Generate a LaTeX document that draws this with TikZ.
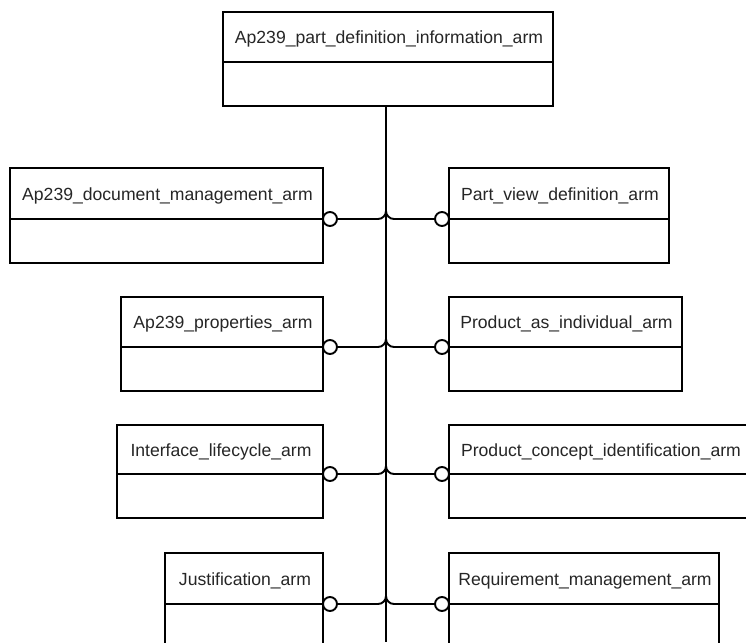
\documentclass[tikz,border=0pt]{standalone}
\usepackage{fontspec}
\setmainfont{Liberation Sans}
\begin{document}
\begin{tikzpicture}[x=1pt,y=-1pt,
  boxline/.style={line width=1.9pt,line join=miter},
  armbox/.style={draw,line width=1.9pt,rectangle,inner sep=0pt,fill=white},
  lbl/.style={font=\fontsize{17.6}{19}\selectfont,inner sep=0pt,text=black!85},
  port/.style={circle,draw,line width=1.9pt,fill=white,minimum size=14pt,inner sep=0pt},
  conn/.style={line width=1.9pt,rounded corners=8pt}]
\clip (0,0) rectangle (746,642);
\fill[white] (0,0) rectangle (746,642);
\newcommand\armbox[7]{%
  \node[armbox,minimum width={#4-#2},minimum height={#5-#3}] (#1) at ({(#2+#4)/2},{(#3+#5)/2}) {};
  \draw[boxline] (#2,#6) -- (#4,#6);
  \node[lbl] (#1-t) at ({(#2+#4)/2+1},{(#3+#6)/2+2}) {#7};
}
% top box
\armbox{top}{223}{12}{553}{106}{62}{Ap239\_part\_definition\_information\_arm}
% trunk
\coordinate (trunkend) at (386,642);
\draw[boxline] (trunkend |- top.south) -- (trunkend);
% rows
\armbox{doc}{10}{168}{323}{263}{219}{Ap239\_document\_management\_arm}
\armbox{pvd}{449}{168}{669}{263}{219}{Part\_view\_definition\_arm}
\armbox{prop}{121}{297}{323}{391}{347}{Ap239\_properties\_arm}
\armbox{pai}{449}{297}{682}{391}{347}{Product\_as\_individual\_arm}
\armbox{ifl}{117}{425}{323}{518}{474}{Interface\_lifecycle\_arm}
\armbox{pci}{449}{425}{751}{518}{474}{Product\_concept\_identification\_arm}
\armbox{jus}{165}{553}{323}{660}{604}{Justification\_arm}
\armbox{req}{449}{553}{719}{660}{604}{Requirement\_management\_arm}
% connectors
\foreach \n/\m/\y in {a/doc/219,b/prop/347,c/ifl/474,d/jus/604}{
  \coordinate (j\n) at (386,\y);
  \coordinate (u\n) at (386,\y-12);
  \node[port] (l\n) at (330,\y) {};
  \node[port] (r\n) at (442,\y) {};
  \draw[conn] (l\n.east) -- (j\n) -- (u\n);
  \draw[conn] (r\n.west) -- (j\n) -- (u\n);
}
\end{tikzpicture}
\end{document}
